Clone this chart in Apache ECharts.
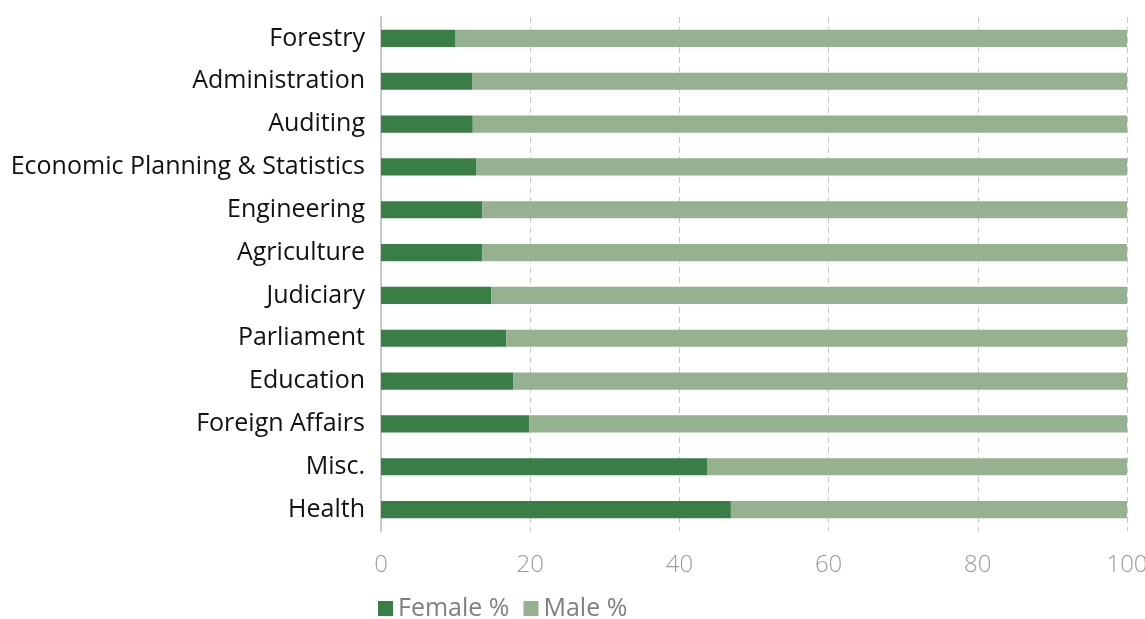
<!DOCTYPE html>
<html>
<head>
<meta charset="utf-8">
<script src="https://cdn.jsdelivr.net/npm/echarts@6/dist/echarts.min.js"></script>
<style>
  html, body { margin: 0; padding: 0; background: #fff; }
  #chart { width: 1145px; height: 619px; }
</style>
</head>
<body>
<div id="chart"></div>
<script>
// Ministries, listed top to bottom
const categories = [
  'Forestry', 'Administration', 'Auditing', 'Economic Planning & Statistics',
  'Engineering', 'Agriculture', 'Judiciary', 'Parliament', 'Education',
  'Foreign Affairs', 'Misc.', 'Health'
];
// Share of female staff, percent
const femalePct = [10.0, 12.2, 12.3, 12.8, 13.6, 13.6, 14.8, 16.8, 17.7, 19.9, 43.7, 46.9];
// Share of male staff, percent
const malePct = [90.0, 87.8, 87.7, 87.2, 86.4, 86.4, 85.2, 83.2, 82.3, 80.1, 56.3, 53.1];
const xTicks = [0, 20, 40, 60, 80, 100];

const FONT = '"Open Sans", "Noto Sans", sans-serif';
const chart = echarts.init(document.getElementById('chart'));
chart.setOption({
  animation: false,
  grid: {
    left: 381, right: 18, top: 17, bottom: 88,
    containLabel: false, outerBoundsMode: 'none'
  },
  legend: {
    left: 378, top: 596, padding: 0,
    itemWidth: 15, itemHeight: 15, itemGap: 14,
    icon: 'rect',
    textStyle: { fontFamily: FONT, fontSize: 25, color: '#7f7f7f' },
    data: ['Female %', 'Male %']
  },
  xAxis: {
    type: 'value', min: xTicks[0], max: xTicks[xTicks.length - 1], interval: 20,
    axisLine: { show: false },
    axisTick: { show: false },
    axisLabel: { fontFamily: FONT, fontSize: 24, fontWeight: 300, color: '#9a9a9a', margin: 22 },
    splitLine: { show: true, lineStyle: { type: [6, 4], color: '#c8c8c8', width: 1 } }
  },
  yAxis: {
    type: 'category', inverse: true, data: categories,
    axisLine: { show: true, lineStyle: { color: '#c8c8c8', width: 2 } },
    axisTick: { show: false },
    axisLabel: { fontFamily: FONT, fontSize: 25, color: '#111', margin: 16 }
  },
  series: [
    {
      name: 'Female %', type: 'bar', stack: 'total', data: femalePct,
      barWidth: '40%', itemStyle: { color: '#3a7e47' }
    },
    {
      name: 'Male %', type: 'bar', stack: 'total', data: malePct,
      barWidth: '40%', itemStyle: { color: '#95b18f' }
    }
  ]
});
</script>
</body>
</html>
